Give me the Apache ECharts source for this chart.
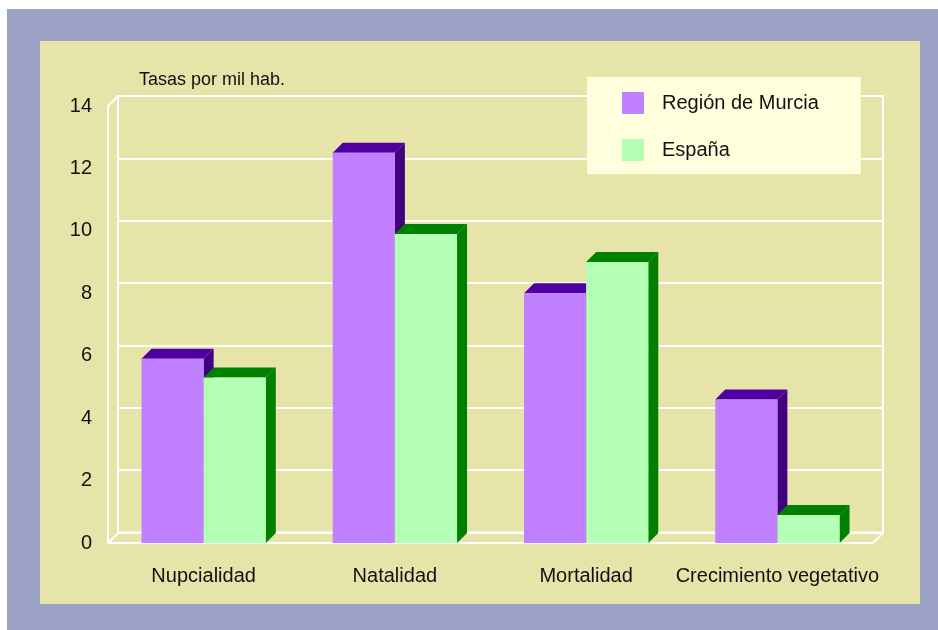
<!DOCTYPE html>
<html>
<head>
    <meta charset="utf-8">
    <title>Tasas por mil hab.</title>
    <script src="https://cdn.jsdelivr.net/npm/echarts@6/dist/echarts.min.js"></script>
    <style>
        html, body { margin: 0; padding: 0; background: #fff; }
    </style>
</head>
<body>
    <div id="main" style="width: 938px;height:630px;"></div>
    <script type="text/javascript">
        // datos
        var categorias = ['Nupcialidad', 'Natalidad', 'Mortalidad', 'Crecimiento vegetativo'];
        var murcia = [5.9, 12.5, 8.0, 4.6];
        var espana = [5.3, 9.9, 9.0, 0.9];
        var serieNames = ['Región de Murcia', 'España'];
        var yMin = 0, yMax = 14, yStep = 2;

        var FONT = 'Liberation Sans, Arial, sans-serif';
        var DEPTH = 10;        // profundidad 3D en px
        var BAR_RATIO = 0.325; // ancho de barra / ancho de categoria

        // barra 3D: cara frontal, superior y lateral
        function bar3d(slot, front, top, side) {
            return function (params, api) {
                var cat = api.value(0);
                var val = api.value(1);
                var p = api.coord([cat, val]);
                var base = api.coord([cat, 0]);
                var w = api.size([1, 0])[0] * BAR_RATIO;
                var x0 = p[0] + (slot - 1) * w;
                var y0 = p[1], y1 = base[1], d = DEPTH;
                return {
                    type: 'group',
                    children: [
                        {
                            type: 'polygon',
                            shape: { points: [[x0 + w, y0], [x0 + w + d, y0 - d], [x0 + w + d, y1 - d], [x0 + w, y1]] },
                            style: { fill: side }
                        },
                        {
                            type: 'polygon',
                            shape: { points: [[x0, y0], [x0 + d, y0 - d], [x0 + w + d, y0 - d], [x0 + w, y0]] },
                            style: { fill: top }
                        },
                        {
                            type: 'rect',
                            shape: { x: x0, y: y0, width: w, height: y1 - y0 },
                            style: { fill: front }
                        }
                    ]
                };
            };
        }

        function toPairs(arr) {
            var out = [];
            for (var i = 0; i < arr.length; i++) {
                out.push([i, arr[i]]);
            }
            return out;
        }

        var myChart = echarts.init(document.getElementById('main'));

        var option = {
            animation: false,
            textStyle: { fontFamily: FONT },
            graphic: [
                { type: 'rect', z: -10, shape: { x: 7, y: 9, width: 931, height: 621 }, style: { fill: '#9ca1c6' } },
                { type: 'rect', z: -9, shape: { x: 40, y: 41, width: 880, height: 563 }, style: { fill: '#e6e4a8' } },
                // diagonales de la caja 3D
                { type: 'line', shape: { x1: 108, y1: 106, x2: 118, y2: 96 }, style: { stroke: '#fff', lineWidth: 2 } },
                { type: 'line', shape: { x1: 108, y1: 543, x2: 118, y2: 533 }, style: { stroke: '#fff', lineWidth: 2 } },
                { type: 'line', shape: { x1: 873, y1: 543, x2: 883, y2: 533 }, style: { stroke: '#fff', lineWidth: 2 } }
            ],
            title: {
                text: 'Tasas por mil hab.',
                left: 139,
                top: 71,
                padding: 0,
                textStyle: { fontFamily: FONT, fontSize: 18, fontWeight: 'normal', color: '#111' }
            },
            legend: {
                data: serieNames,
                orient: 'vertical',
                left: 587,
                top: 77,
                padding: [15, 42, 13, 35],
                itemGap: 25,
                itemWidth: 22,
                itemHeight: 22,
                icon: 'rect',
                backgroundColor: '#ffffdd',
                textStyle: { fontFamily: FONT, fontSize: 20, color: '#111', padding: [0, 0, 0, 13] }
            },
            grid: [
                // pared del fondo
                { left: 118, top: 96, width: 765, height: 436.5, show: true, borderColor: '#fff', borderWidth: 2, backgroundColor: 'transparent' },
                // plano frontal
                { left: 108, top: 106, width: 765, height: 437 }
            ],
            xAxis: [
                {
                    gridIndex: 0, type: 'category', data: categorias,
                    axisLine: { show: false }, axisTick: { show: false }, axisLabel: { show: false }
                },
                {
                    gridIndex: 1, type: 'category', data: categorias,
                    axisLine: { show: true, lineStyle: { color: '#fff', width: 2 } },
                    axisTick: { show: false },
                    axisLabel: { interval: 0, margin: 23, fontFamily: FONT, fontSize: 20, color: '#111' }
                }
            ],
            yAxis: [
                {
                    gridIndex: 0, type: 'value', min: yMin, max: yMax, interval: yStep,
                    axisLine: { show: false }, axisTick: { show: false }, axisLabel: { show: false },
                    splitLine: { show: true, lineStyle: { color: '#fff', width: 2 } }
                },
                {
                    gridIndex: 1, type: 'value', min: yMin, max: yMax, interval: yStep,
                    axisLine: { show: true, lineStyle: { color: '#fff', width: 2 } },
                    axisTick: { show: false },
                    splitLine: { show: false },
                    axisLabel: { margin: 16, fontFamily: FONT, fontSize: 20, color: '#111' }
                }
            ],
            series: [
                {
                    name: serieNames[0],
                    type: 'custom',
                    xAxisIndex: 1,
                    yAxisIndex: 1,
                    itemStyle: { color: '#c080ff' },
                    renderItem: bar3d(0, '#c080ff', '#5000a0', '#400080'),
                    encode: { x: 0, y: 1 },
                    data: toPairs(murcia)
                },
                {
                    name: serieNames[1],
                    type: 'custom',
                    xAxisIndex: 1,
                    yAxisIndex: 1,
                    itemStyle: { color: '#b3ffb3' },
                    renderItem: bar3d(1, '#b3ffb3', '#008000', '#008000'),
                    encode: { x: 0, y: 1 },
                    data: toPairs(espana)
                }
            ]
        };

        myChart.setOption(option);
    </script>
</body>
</html>
